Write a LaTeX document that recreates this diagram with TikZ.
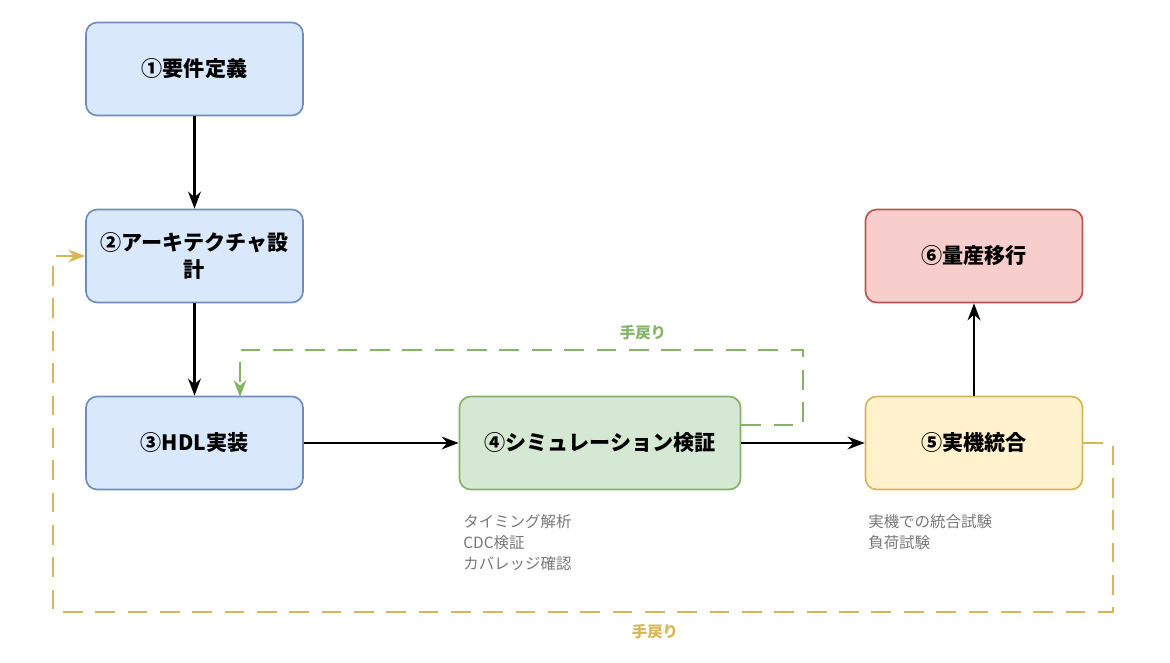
\documentclass[tikz,border=0pt]{standalone}
\usepackage{fontspec}
\setmainfont{Noto Sans CJK JP}
\usetikzlibrary{positioning,arrows.meta}
\definecolor{bluefill}{HTML}{DAE8FC}\definecolor{bluedraw}{HTML}{6C8EBF}
\definecolor{greenfill}{HTML}{D5E8D4}\definecolor{greendraw}{HTML}{82B366}
\definecolor{yellowfill}{HTML}{FFF2CC}\definecolor{yellowdraw}{HTML}{D6B656}
\definecolor{redfill}{HTML}{F8CECC}\definecolor{reddraw}{HTML}{B85450}
\definecolor{notegray}{HTML}{777777}
\begin{document}
\begin{tikzpicture}[x=0.025cm,y=-0.025cm,
    phase/.style={draw, rounded corners=8pt, line width=1.2pt, minimum width=5.425cm,
      minimum height=2.325cm, font=\bfseries\fontsize{15}{19}\selectfont, align=center},
    flow/.style={-{Stealth[length=12pt,width=9pt]}, line width=2pt},
    back/.style={line width=2pt, dash pattern=on 14pt off 9pt, -{Stealth[length=12pt,width=9pt]}},
    note/.style={font=\fontsize{11}{15}\selectfont, text=notegray, align=left, anchor=north west, inner sep=0pt}]
    \useasboundingbox (0,0) rectangle (1170,663);

    % Phases
    \node[phase, fill=bluefill, draw=bluedraw] (req) at (194.5,69) {①要件定義};
    \node[phase, fill=bluefill, draw=bluedraw] (arch) at (194.5,256) {②アーキテクチャ設\\計};
    \node[phase, fill=bluefill, draw=bluedraw] (hdl) at (194.5,443) {③HDL実装};
    \node[phase, fill=greenfill, draw=greendraw, minimum width=7.025cm] (sim) at (600,443) {④シミュレーション検証};
    \node[phase, fill=yellowfill, draw=yellowdraw] (board) at (974,443) {⑤実機統合};
    \node[phase, fill=redfill, draw=reddraw] (mass) at (974,256) {⑥量産移行};

    % Main flow
    \draw[flow] (req) -- (arch);
    \draw[flow] (arch) -- (hdl);
    \draw[flow] (hdl) -- (sim);
    \draw[flow] (sim) -- (board);
    \draw[flow] (board) -- (mass);

    % Rework loops
    \draw[back, draw=greendraw]
      (sim.east |- 0,425) -- (803,425) -- (803,350) -- (240,350) -- (240,397);
    \node[text=greendraw, font=\bfseries\fontsize{11}{13}\selectfont] (gl) at (643,333) {手戻り};
    \draw[back, draw=yellowdraw]
      (board.east) -- (1113,443) -- (1113,612) -- (53,612) -- (53,256) -- (arch.west);
    \node[text=yellowdraw, font=\bfseries\fontsize{11}{13}\selectfont] (yl) at (655,632) {手戻り};

    % Notes
    \node[note] (simnote) at (463,514) {タイミング解析\\CDC検証\\カバレッジ確認};
    \node[note] (boardnote) at (868,514) {実機での統合試験\\負荷試験};
\end{tikzpicture}
\end{document}
